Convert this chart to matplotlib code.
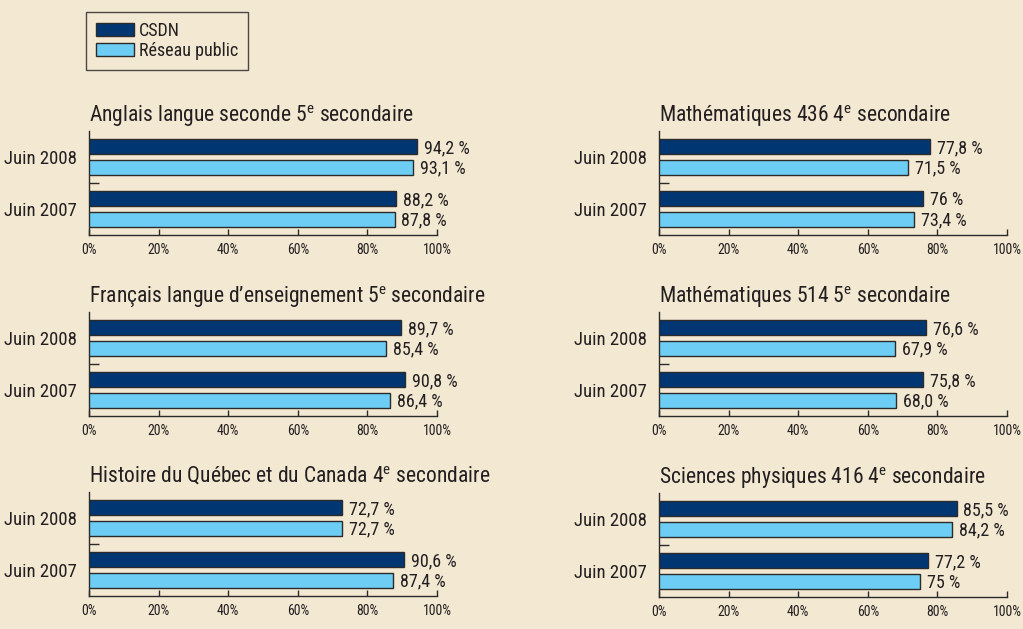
import matplotlib
matplotlib.use('Agg')
import matplotlib.pyplot as plt
from matplotlib.patches import Patch

# Condensed sans to mimic the print font
plt.rcParams['font.family'] = ['Roboto Condensed', 'DejaVu Sans']
plt.rcParams['mathtext.fontset'] = 'custom'
plt.rcParams['mathtext.rm'] = 'Roboto Condensed'
plt.rcParams['mathtext.it'] = 'Roboto Condensed'

BG = '#f3e8d2'
DARK = '#003672'
LIGHT = '#6dcdf4'
EDGE = '#2b2b2b'
TXT = '#231f20'

# Data
years = ['Juin 2008', 'Juin 2007']
series = ['CSDN', 'Réseau public']

titles = [
    r'Anglais langue seconde 5$^{\mathrm{e}}$ secondaire',
    r'Français langue d’enseignement 5$^{\mathrm{e}}$ secondaire',
    r'Histoire du Québec et du Canada 4$^{\mathrm{e}}$ secondaire',
    r'Mathématiques 436 4$^{\mathrm{e}}$ secondaire',
    r'Mathématiques 514 5$^{\mathrm{e}}$ secondaire',
    r'Sciences physiques 416 4$^{\mathrm{e}}$ secondaire',
]
# values per panel: [2008, 2007]
csdn = [
    [94.2, 88.2],
    [89.7, 90.8],
    [72.7, 90.6],
    [77.8, 76.0],
    [76.6, 75.8],
    [85.5, 77.2],
]
public = [
    [93.1, 87.8],
    [85.4, 86.4],
    [72.7, 87.4],
    [71.5, 73.4],
    [67.9, 68.0],
    [84.2, 75.0],
]
csdn_lbl = [
    ['94,2 %', '88,2 %'],
    ['89,7 %', '90,8 %'],
    ['72,7 %', '90,6 %'],
    ['77,8 %', '76 %'],
    ['76,6 %', '75,8 %'],
    ['85,5 %', '77,2 %'],
]
public_lbl = [
    ['93,1 %', '87,8 %'],
    ['85,4 %', '86,4 %'],
    ['72,7 %', '87,4 %'],
    ['71,5 %', '73,4 %'],
    ['67,9 %', '68,0 %'],
    ['84,2 %', '75 %'],
]
xticks = [0, 20, 40, 60, 80, 100]
xtick_labels = ['0%', '20%', '40%', '60%', '80%', '100%']

W, H = 1023, 629
fig = plt.figure(figsize=(W / 100, H / 100), dpi=100, facecolor=BG)

# panel boxes in pixels: (left, top, right, bottom)
boxes = [
    (89, 131, 437, 235),
    (89, 312, 437, 416),
    (89, 492, 437, 596),
    (659, 131, 1007, 235),
    (659, 312, 1007, 416),
    (659, 493, 1007, 597),
]

pos = [1, 0]
off = 0.2
h = 0.29

for i, (l, t, r, b) in enumerate(boxes):
    ax = fig.add_axes([l / W, 1 - b / H, (r - l) / W, (b - t) / H])
    ax.set_facecolor(BG)
    ax.barh([p + off for p in pos], csdn[i], height=h, color=DARK,
            edgecolor=EDGE, linewidth=1.0, zorder=3)
    ax.barh([p - off for p in pos], public[i], height=h, color=LIGHT,
            edgecolor=EDGE, linewidth=1.0, zorder=3)
    for j, p in enumerate(pos):
        ax.annotate(csdn_lbl[i][j], (csdn[i][j], p + off), xytext=(5, -1),
                    textcoords='offset points', va='center', ha='left',
                    fontsize=13, color=TXT)
        ax.annotate(public_lbl[i][j], (public[i][j], p - off), xytext=(5, -1),
                    textcoords='offset points', va='center', ha='left',
                    fontsize=13, color=TXT)
    ax.set_xlim(0, 100)
    ax.set_ylim(-0.5, 1.5)
    ax.set_xticks(xticks)
    ax.set_xticklabels(xtick_labels, fontsize=10, color=TXT)
    ax.tick_params(axis='x', direction='in', length=4, width=1, color=EDGE, pad=6)
    ax.set_yticks(pos)
    ax.set_yticklabels(years, fontsize=13.5, color=TXT)
    ax.tick_params(axis='y', which='major', length=0, pad=9)
    ax.set_yticks([0.5], minor=True)
    ax.tick_params(axis='y', which='minor', direction='in', length=7, width=1, color=EDGE)
    for s in ['top', 'right']:
        ax.spines[s].set_visible(False)
    for s in ['left', 'bottom']:
        ax.spines[s].set_color(EDGE)
        ax.spines[s].set_linewidth(1)
    ax.text(0, 1 + 9 / (b - t), titles[i], transform=ax.transAxes, ha='left',
            va='baseline', fontsize=15.5, color=TXT)

handles = [Patch(facecolor=DARK, edgecolor=EDGE, linewidth=1.0),
           Patch(facecolor=LIGHT, edgecolor=EDGE, linewidth=1.0)]
leg = fig.legend(handles, series, loc='upper left',
                 bbox_to_anchor=(86 / W, 1 - 12 / H), fontsize=13,
                 frameon=True, fancybox=False, edgecolor=TXT, facecolor=BG,
                 handlelength=2.1, handleheight=0.75, handletextpad=0.3,
                 labelspacing=0.1, borderpad=0.55, borderaxespad=0)
leg.get_frame().set_linewidth(1)
for txt in leg.get_texts():
    txt.set_color(TXT)

fig.savefig('out.png', dpi=100, facecolor=BG)
